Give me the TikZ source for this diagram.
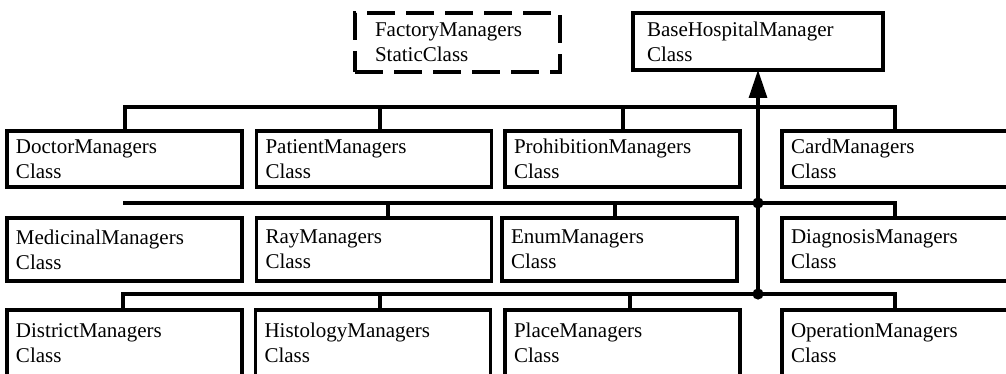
\documentclass[tikz,border=0pt]{standalone}
\usepackage{fontspec}
\setmainfont{Liberation Serif}
\usetikzlibrary{arrows.meta}
\begin{document}
\begin{tikzpicture}[x=0.75pt,y=-0.75pt,
  line width=2.3pt,
  classfont/.style={font=\fontsize{15.75}{18.75}\selectfont},
  box/.style={draw, rectangle, line width=2.3pt, outer sep=0pt,
    inner xsep=6.75pt, inner ysep=0pt, align=left, classfont,
    minimum width=176.25pt, text width=162.75pt},
  rowA/.style={box, minimum height=42pt},
  rowB/.style={box, minimum height=47.25pt},
  rowC/.style={box, minimum height=50pt},
  staticbox/.style={draw, rectangle, line width=3pt, dash pattern=on 21pt off 8.25pt,
    outer sep=0pt, inner xsep=15pt, inner ysep=0pt, align=left, classfont,
    minimum width=153.75pt, text width=123.75pt, minimum height=44.25pt},
  basebox/.style={draw, rectangle, line width=2.3pt, outer sep=0pt,
    inner xsep=10.5pt, inner ysep=0pt, align=left, classfont,
    minimum width=187.5pt, text width=166.5pt, minimum height=42.75pt},
  junction/.style={fill=black},
  inherit/.style={-{Triangle[length=21pt,width=13.5pt]}}
]
\useasboundingbox (0,0) rectangle (1006,374);
\clip (0,0) rectangle (1006,374);

% top level classes
\node[staticbox] (factory) at (457.5,42.5) {FactoryManagers\\StaticClass};
\node[basebox] (base) at (758,41.5) {BaseHospitalManager\\Class};

% first row
\node[rowA] (doctor) at (124.5,159) {DoctorManagers\\Class};
\node[rowA] (patient) at (374,159) {PatientManagers\\Class};
\node[rowA] (prohib) at (622.5,159) {ProhibitionManagers\\Class};
\node[rowA] (card) at (899.5,159) {CardManagers\\Class};

% second row
\node[rowB] (medic) at (124.5,249.5) {MedicinalManagers\\Class};
\node[rowB] (ray) at (374,249.5) {RayManagers\\Class};
\node[rowB] (enum) at (619.5,249.5) {EnumManagers\\Class};
\node[rowB] (diag) at (899.5,249.5) {DiagnosisManagers\\Class};

% third row (runs past the lower edge)
\node[rowC] (district) at (124.5,343.3) {DistrictManagers\\Class};
\node[rowC] (histo) at (373,343.3) {HistologyManagers\\Class};
\node[rowC] (place) at (622.5,343.3) {PlaceManagers\\Class};
\node[rowC] (oper) at (899.5,343.3) {OperationManagers\\Class};

% bus taps
\coordinate (a1) at (125,107);
\coordinate (a2) at (380,107);
\coordinate (a3) at (623,107);
\coordinate (a4) at (895,107);
\coordinate (b0) at (123,203);
\coordinate (b2) at (388,203);
\coordinate (b3) at (615,203);
\coordinate (b4) at (895,203);
\coordinate (c1) at (123,294);
\coordinate (c2) at (380,294);
\coordinate (c3) at (630,294);
\coordinate (c4) at (895,294);
\coordinate (j2) at (758,203);
\coordinate (j3) at (758,294);

% first bus
\draw (a1 |- doctor.north) -- (a1) -- (a4) -- (a4 |- card.north);
\draw (a2) -- (a2 |- patient.north);
\draw (a3) -- (a3 |- prohib.north);

% second bus
\draw (b0) -- (b4) -- (b4 |- diag.north);
\draw (b2) -- (b2 |- ray.north);
\draw (b3) -- (b3 |- enum.north);

% third bus
\draw (c1 |- district.north) -- (c1) -- (c4) -- (c4 |- oper.north);
\draw (c2) -- (c2 |- histo.north);
\draw (c3) -- (c3 |- place.north);

% trunk to the base class
\draw[inherit] (j3) -- (base.south);
\fill[junction] (j2) circle[radius=4.2pt];
\fill[junction] (j3) circle[radius=4.2pt];
\end{tikzpicture}
\end{document}
